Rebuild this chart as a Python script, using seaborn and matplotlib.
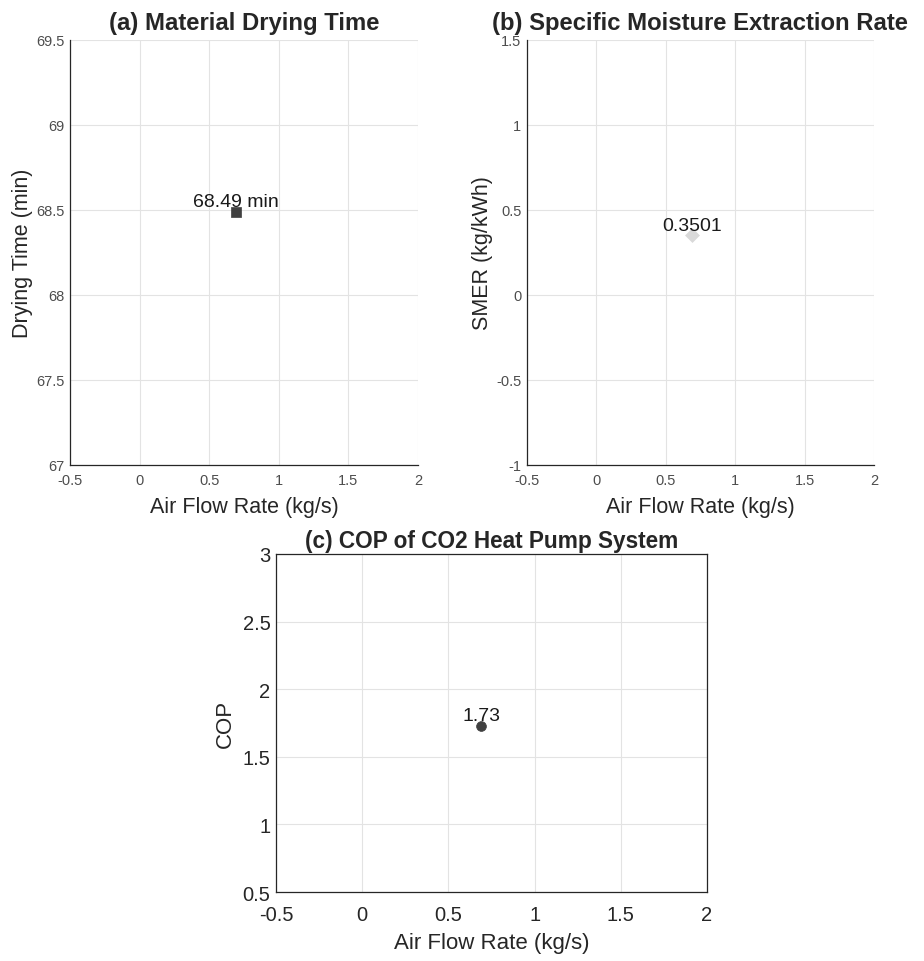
import matplotlib
matplotlib.use('Agg')
import matplotlib.pyplot as plt
import seaborn as sns
import pandas as pd

sns.set_style('white')
plt.rcParams['font.family'] = ['Liberation Sans', 'DejaVu Sans']

# data
air_flow = [0.69]
drying_time = [68.49]
smer = [0.3501]
cop = [1.73]

x_ticks = [-0.5, 0, 0.5, 1, 1.5, 2]
x_tick_labels = ['-0.5', '0', '0.5', '1', '1.5', '2']
drying_ticks = [67, 67.5, 68, 68.5, 69, 69.5]
drying_labels = ['67', '67.5', '68', '68.5', '69', '69.5']
smer_ticks = [-1, -0.5, 0, 0.5, 1, 1.5]
smer_labels = ['-1', '-0.5', '0', '0.5', '1', '1.5']
cop_ticks = [0.5, 1, 1.5, 2, 2.5, 3]
cop_labels = ['0.5', '1', '1.5', '2', '2.5', '3']

fig = plt.figure(figsize=(9.24, 9.62), dpi=100)
ax_a = fig.add_axes([0.0758, 0.5156, 0.3766, 0.4418])
ax_b = fig.add_axes([0.5703, 0.5156, 0.3755, 0.4418])
ax_c = fig.add_axes([0.2987, 0.0717, 0.4665, 0.3514])


def style_axes(ax, yticks, ylabels, tick_size, tick_color, box, xpad):
    ax.set_xlim(-0.5, 2)
    ax.set_ylim(yticks[0], yticks[-1])
    ax.set_xticks(x_ticks)
    ax.set_xticklabels(x_tick_labels)
    ax.set_yticks(yticks)
    ax.set_yticklabels(ylabels)
    ax.grid(True, color='#e3e3e3', linewidth=0.8)
    ax.set_axisbelow(True)
    ax.tick_params(direction='in', length=4, width=0.8, labelsize=tick_size,
                   colors='#262626', labelcolor=tick_color, pad=4,
                   top=False, right=False)
    ax.tick_params(axis='x', pad=xpad)
    for side in ['left', 'bottom']:
        ax.spines[side].set_color('#262626')
        ax.spines[side].set_linewidth(0.9)
    for side in ['top', 'right']:
        ax.spines[side].set_visible(box)
        ax.spines[side].set_color('#262626')
        ax.spines[side].set_linewidth(0.9)


# (a) drying time
df_a = pd.DataFrame({'flow': air_flow, 'val': drying_time})
sns.scatterplot(data=df_a, x='flow', y='val', ax=ax_a, marker='s', s=50,
                color='#404040', edgecolor='#404040', linewidth=0.5)
for x, y in zip(air_flow, drying_time):
    ax_a.annotate(f'{y:.2f} min', (x, y), xytext=(0, 1), textcoords='offset points',
                  ha='center', va='bottom', fontsize=14, color='#1a1a1a')
style_axes(ax_a, drying_ticks, drying_labels, 10.5, '#4d4d4d', False, 6)
ax_a.set_title('(a) Material Drying Time', fontsize=17.2, fontweight='bold', pad=8)
ax_a.set_xlabel('Air Flow Rate (kg/s)', fontsize=15.5, color='#262626', labelpad=6)
ax_a.set_ylabel('Drying Time (min)', fontsize=15.5, color='#262626', labelpad=2.5)

# (b) SMER
df_b = pd.DataFrame({'flow': air_flow, 'val': smer})
sns.scatterplot(data=df_b, x='flow', y='val', ax=ax_b, marker='D', s=50,
                color='#d9d9d9', edgecolor='#d9d9d9', linewidth=0.5)
for x, y in zip(air_flow, smer):
    ax_b.annotate(f'{y:.4f}', (x, y), xytext=(0, 1), textcoords='offset points',
                  ha='center', va='bottom', fontsize=14, color='#1a1a1a')
style_axes(ax_b, smer_ticks, smer_labels, 10.5, '#4d4d4d', False, 6)
ax_b.set_title('(b) Specific Moisture Extraction Rate', fontsize=17.2, fontweight='bold', pad=8)
ax_b.set_xlabel('Air Flow Rate (kg/s)', fontsize=15.5, color='#262626', labelpad=6)
ax_b.set_ylabel('SMER (kg/kWh)', fontsize=15.5, color='#262626', labelpad=2.5)

# (c) COP
df_c = pd.DataFrame({'flow': air_flow, 'val': cop})
sns.scatterplot(data=df_c, x='flow', y='val', ax=ax_c, marker='o', s=50,
                color='#404040', edgecolor='#404040', linewidth=0.5)
for x, y in zip(air_flow, cop):
    ax_c.annotate(f'{y:.2f}', (x, y), xytext=(0, 1), textcoords='offset points',
                  ha='center', va='bottom', fontsize=14, color='#1a1a1a')
style_axes(ax_c, cop_ticks, cop_labels, 14.5, '#262626', True, 9)
ax_c.set_title('(c) COP of CO2 Heat Pump System', fontsize=16.3, fontweight='bold', pad=5)
ax_c.set_xlabel('Air Flow Rate (kg/s)', fontsize=16, color='#262626', labelpad=6)
ax_c.set_ylabel('COP', fontsize=16, color='#262626', labelpad=5)

fig.savefig('out.png', dpi=100, facecolor='white')
plt.close(fig)
